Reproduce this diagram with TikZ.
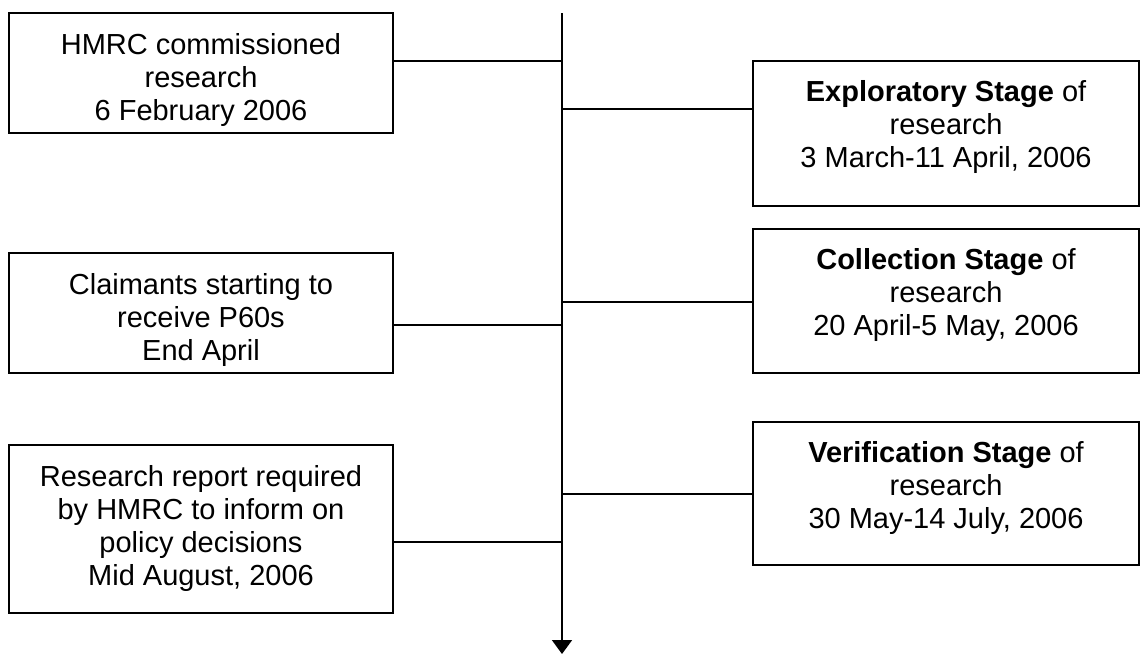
\documentclass[tikz,border=0pt]{standalone}
\usepackage{fontspec}
\setmainfont{Liberation Sans}
\usetikzlibrary{arrows.meta}
\begin{document}
\begin{tikzpicture}[x=0.02cm,y=-0.02cm,
  box/.style={draw,line width=1.1pt,inner sep=0pt,outer sep=0pt,rectangle},
  lbox/.style={box,minimum width=7.68cm},
  rbox/.style={box,minimum width=7.72cm},
  lbl/.style={anchor=north,inner sep=0pt,outer sep=0pt,align=center,font=\fontsize{16.5pt}{18.8pt}\selectfont},
  conn/.style={line width=1pt}]
\useasboundingbox (0,0) rectangle (1148,656);
% left boxes
\node[lbox,minimum height=2.4cm] (L1) at (201,73) {};
\node[lbl] (L1t) at ([yshift=-0.4cm]L1.north) {HMRC commissioned\\research\\6 February 2006};
\node[lbox,minimum height=2.4cm] (L2) at (201,313) {};
\node[lbl] (L2t) at ([yshift=-0.4cm]L2.north) {Claimants starting to\\receive P60s\\End April};
\node[lbox,minimum height=3.36cm] (L3) at (201,529) {};
\node[lbl] (L3t) at ([yshift=-0.4cm]L3.north) {Research report required\\by HMRC to inform on\\policy decisions\\Mid August, 2006};
% right boxes
\node[rbox,minimum height=2.9cm] (R1) at (946,133.5) {};
\node[lbl] (R1t) at ([yshift=-0.38cm]R1.north) {\textbf{Exploratory Stage} of\\research\\3 March-11 April, 2006};
\node[rbox,minimum height=2.88cm] (R2) at (946,301) {};
\node[lbl] (R2t) at ([yshift=-0.38cm]R2.north) {\textbf{Collection Stage} of\\research\\20 April-5 May, 2006};
\node[rbox,minimum height=2.86cm] (R3) at (946,493.5) {};
\node[lbl] (R3t) at ([yshift=-0.38cm]R3.north) {\textbf{Verification Stage} of\\research\\30 May-14 July, 2006};
% spine
\coordinate (top) at (562,13);
\coordinate (bot) at (562,654);
\draw[conn,-{Triangle[width=0.4cm,length=0.28cm]}] (top) -- (bot);
\coordinate (c1) at (562,61);
\coordinate (c2) at (562,109);
\coordinate (c3) at (562,302);
\coordinate (c4) at (562,325);
\coordinate (c5) at (562,494);
\coordinate (c6) at (562,542);
\draw[conn] (L1.east |- c1) -- (c1);
\draw[conn] (c2) -- (R1.west |- c2);
\draw[conn] (c3) -- (R2.west |- c3);
\draw[conn] (L2.east |- c4) -- (c4);
\draw[conn] (c5) -- (R3.west |- c5);
\draw[conn] (L3.east |- c6) -- (c6);
\end{tikzpicture}
\end{document}
